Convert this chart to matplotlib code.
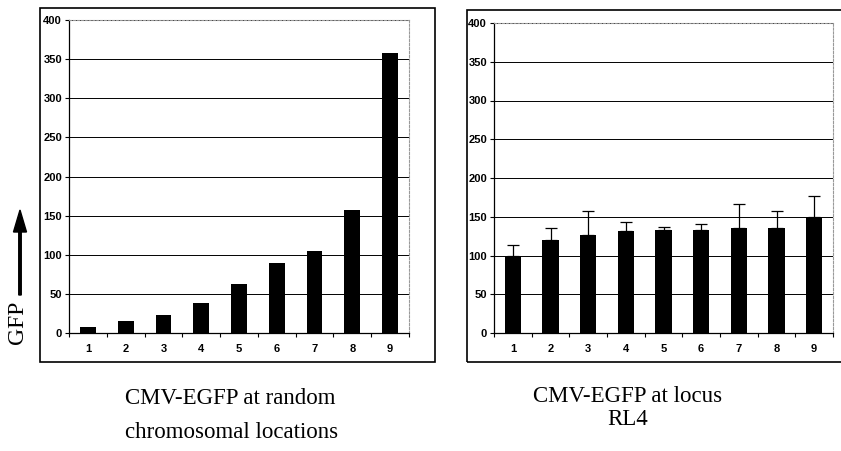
import matplotlib
matplotlib.use("Agg")
import matplotlib.pyplot as plt
from matplotlib.patches import Rectangle, FancyArrow

# data
clones = ["1", "2", "3", "4", "5", "6", "7", "8", "9"]
gfp_random = [8, 15, 23, 38, 63, 89, 105, 157, 358]
gfp_rl4 = [100, 120, 126, 131, 133, 133, 135, 135, 150]
gfp_rl4_err = [13, 15, 31, 12, 4, 8, 31, 23, 27]
yticks = [0, 50, 100, 150, 200, 250, 300, 350, 400]

cap_left = "CMV-EGFP at random"
cap_left2 = "chromosomal locations"
cap_right = "CMV-EGFP at locus\nRL4"

W, H = 841, 451
fig = plt.figure(figsize=(W / 100, H / 100), dpi=100)


def px(x0, y0, x1, y1):
    # pixel box (top-left origin) -> figure fraction rect
    return [x0 / W, 1 - y1 / H, (x1 - x0) / W, (y1 - y0) / H]


def style(ax):
    ax.set_ylim(0, 400)
    ax.set_xlim(0.5, 9.5)
    ax.set_yticks(yticks)
    ax.set_yticklabels([str(t) for t in yticks])
    ax.set_xticks(range(1, 10))
    ax.set_xticklabels(clones)
    ax.set_xticks([i + 0.5 for i in range(0, 10)], minor=True)
    ax.tick_params(axis="x", which="major", length=0, pad=8)
    ax.tick_params(axis="x", which="minor", length=3, direction="out", width=0.8)
    ax.tick_params(axis="y", length=3, direction="out", width=0.8, pad=2)
    for lab in ax.get_xticklabels() + ax.get_yticklabels():
        lab.set_fontfamily("Liberation Sans")
        lab.set_fontweight("bold")
        lab.set_fontsize(8)
    ax.grid(axis="y", color="black", linewidth=0.7)
    ax.set_axisbelow(True)
    for s in ["left", "bottom"]:
        ax.spines[s].set_color("black")
        ax.spines[s].set_linewidth(0.9)
    for s in ["top", "right"]:
        ax.spines[s].set_color("#999999")
        ax.spines[s].set_linestyle((0, (2, 1.5)))
        ax.spines[s].set_linewidth(0.8)


# outer frames
fig.patches.append(Rectangle((40 / W, 1 - 362 / H), 395 / W, 354 / H,
                             transform=fig.transFigure, fill=False,
                             edgecolor="black", linewidth=1.2))
fig.patches.append(Rectangle((467 / W, 1 - 362 / H), 380 / W, 352 / H,
                             transform=fig.transFigure, fill=False,
                             edgecolor="black", linewidth=1.2))

ax1 = fig.add_axes(px(69, 20, 409, 333))
ax1.bar(range(1, 10), gfp_random, width=0.42, color="black")
style(ax1)

ax2 = fig.add_axes(px(494, 23, 833, 333))
ax2.bar(range(1, 10), gfp_rl4, width=0.44, color="black",
        yerr=[[0] * 9, gfp_rl4_err], capsize=4,
        error_kw=dict(elinewidth=0.9, capthick=0.9, ecolor="black"))
style(ax2)

# captions
fig.text(230 / W, 1 - 398 / H, cap_left, ha="center", va="center",
         family="Liberation Serif", fontsize=16.5)
fig.text(232 / W, 1 - 432 / H, cap_left2, ha="center", va="center",
         family="Liberation Serif", fontsize=16.5)
fig.text(628 / W, 1 - 408 / H, cap_right, ha="center", va="center",
         family="Liberation Serif", fontsize=16.5, linespacing=1.15)

# y label with arrow
fig.text(18 / W, 1 - 322 / H, "GFP", rotation=90, ha="center", va="center",
         family="Liberation Serif", fontsize=17)
fig.patches.append(FancyArrow(20 / W, 1 - 295 / H, 0, 85 / H, width=2.5 / W,
                              head_width=13 / W, head_length=22 / H,
                              length_includes_head=True, color="black",
                              transform=fig.transFigure))

fig.savefig("out.png", dpi=100)
